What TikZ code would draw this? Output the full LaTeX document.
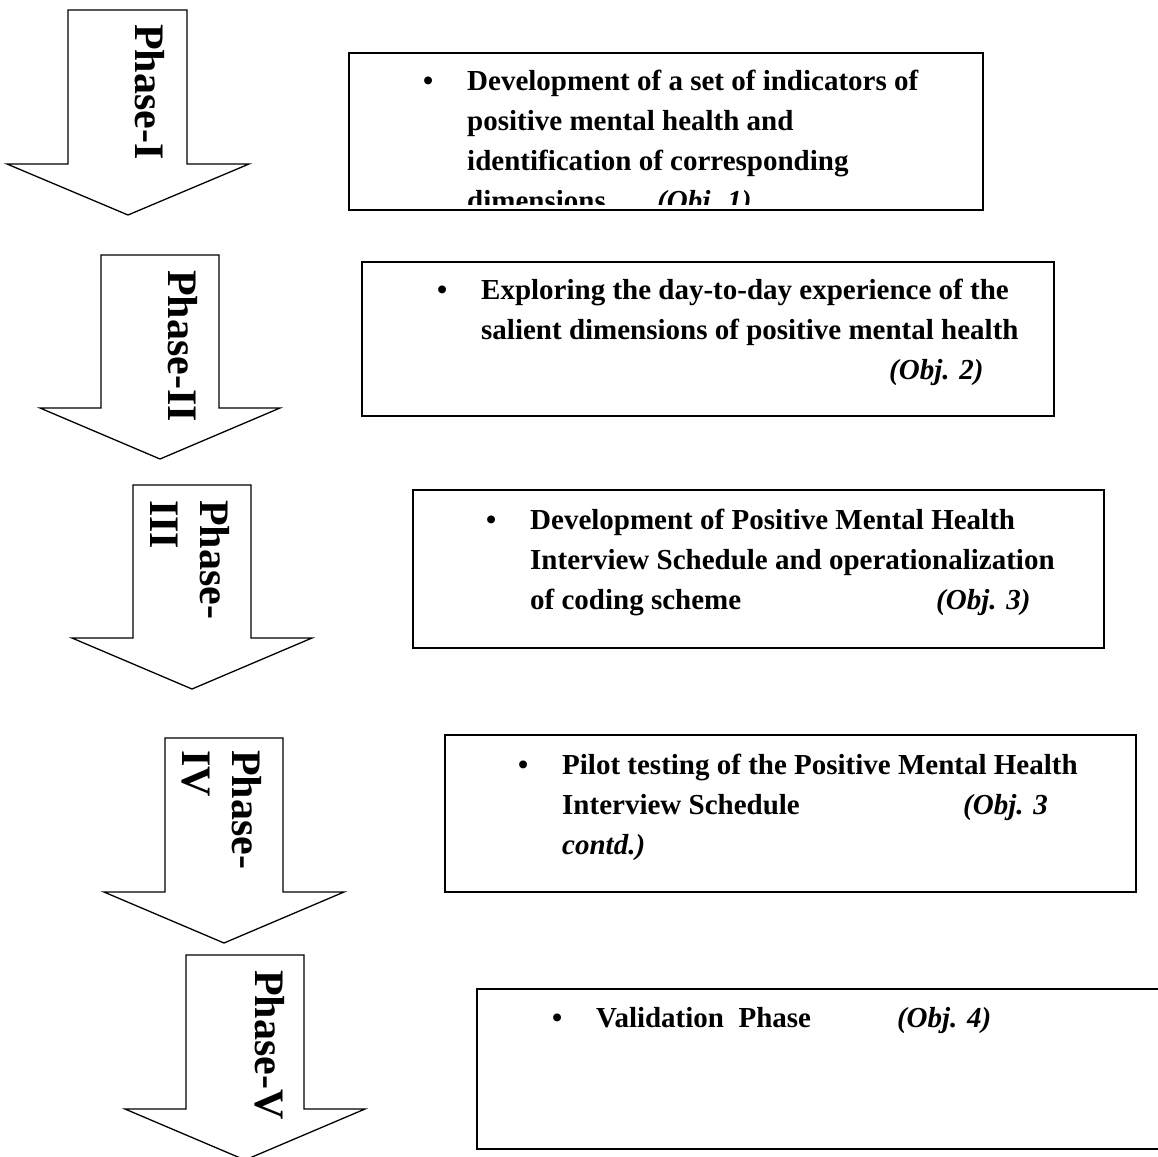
\documentclass[tikz,border=0pt]{standalone}
\usepackage{fontspec}
\setmainfont{Liberation Serif}
\newfontfamily\boxfont{Liberation Serif}
\newfontfamily\labfont{Liberation Serif}
\newcommand\bul{\llap{\makebox[44pt][l]{\textbullet}}}
\newcommand\atx[2]{\makebox[0pt][l]{\hspace*{#1}#2}}
\newcommand\lns[1]{\vtop{#1}}
\tikzset{
  arr/.style={draw=black, line width=1.3pt, fill=white, line join=miter},
  obox/.style={draw=black, line width=1.7pt},
  btext/.style={anchor=base west, inner sep=0pt, font=\boxfont\bfseries\fontsize{29}{40}\selectfont},
  lab/.style={rotate=-90, anchor=base west, inner sep=0pt, font=\labfont\bfseries\fontsize{42}{50}\selectfont},
}
\begin{document}
\begin{tikzpicture}[x=1pt,y=-1pt]
\clip (0,0) rectangle (1158,1156);
\fill[white] (0,0) rectangle (1158,1156);

% arrows
\draw[arr] (68,10) -- (187,10) -- (187,164) -- (249,164) -- (128,215) -- (7,164) -- (68,164) -- cycle;
\draw[arr] (101,255) -- (219,255) -- (219,408) -- (280,408) -- (160,459) -- (40,408) -- (101,408) -- cycle;
\draw[arr] (133,485) -- (251,485) -- (251,638) -- (312,638) -- (192,689) -- (72,638) -- (133,638) -- cycle;
\draw[arr] (165,738) -- (283,738) -- (283,892) -- (344,892) -- (224,943) -- (104,892) -- (165,892) -- cycle;
\draw[arr] (186,955) -- (304,955) -- (304,1109) -- (365,1109) -- (245,1160) -- (125,1109) -- (186,1109) -- cycle;

% phase labels
\node[lab] (p1) at (135,24) {Phase-I};
\node[lab] (p2) at (168,270) {Phase-II};
\node[lab] (p3) at (200,500) {\lns{\hbox{Phase-}\hbox{III}}};
\node[lab] (p4) at (232,750) {\lns{\hbox{Phase-}\hbox{IV}}};
\node[lab] (p5) at (255,970) {Phase-V};

% boxes
\draw[obox] (349,53) rectangle (983,210);
\draw[obox] (362,262) rectangle (1054,416);
\draw[obox] (413,490) rectangle (1104,648);
\draw[obox] (445,735) rectangle (1136,892);
\draw[obox] (477,989) rectangle (1170,1149);

\begin{scope}
\clip (350,54) rectangle (982,204);
\node[btext] (t1) at (467,90) {\lns{%
\hbox{\bul Development of a set of indicators of}%
\hbox{positive mental health and}%
\hbox{identification of corresponding}%
\hbox{\atx{0pt}{dimensions}\atx{190pt}{\itshape (Obj. 1)}}}};
\end{scope}

\node[btext] (t2) at (481,299) {\lns{%
\hbox{\bul Exploring the day-to-day experience of the}%
\hbox{salient dimensions of positive mental health}%
\hbox{\atx{408pt}{\itshape (Obj. 2)}}}};

\node[btext] (t3) at (530,529) {\lns{%
\hbox{\bul Development of Positive Mental Health}%
\hbox{Interview Schedule and operationalization}%
\hbox{\atx{0pt}{of coding scheme}\atx{406pt}{\itshape (Obj. 3)}}}};

\node[btext] (t4) at (562,774) {\lns{%
\hbox{\bul Pilot testing of the Positive Mental Health}%
\hbox{\atx{0pt}{Interview Schedule}\atx{401pt}{\itshape (Obj. 3}}%
\hbox{\itshape contd.)}}};

\node[btext] (t5) at (596,1027) {\lns{%
\hbox{\bul Validation\ \ Phase\atx{86pt}{\itshape (Obj. 4)}}}};
\end{tikzpicture}
\end{document}
